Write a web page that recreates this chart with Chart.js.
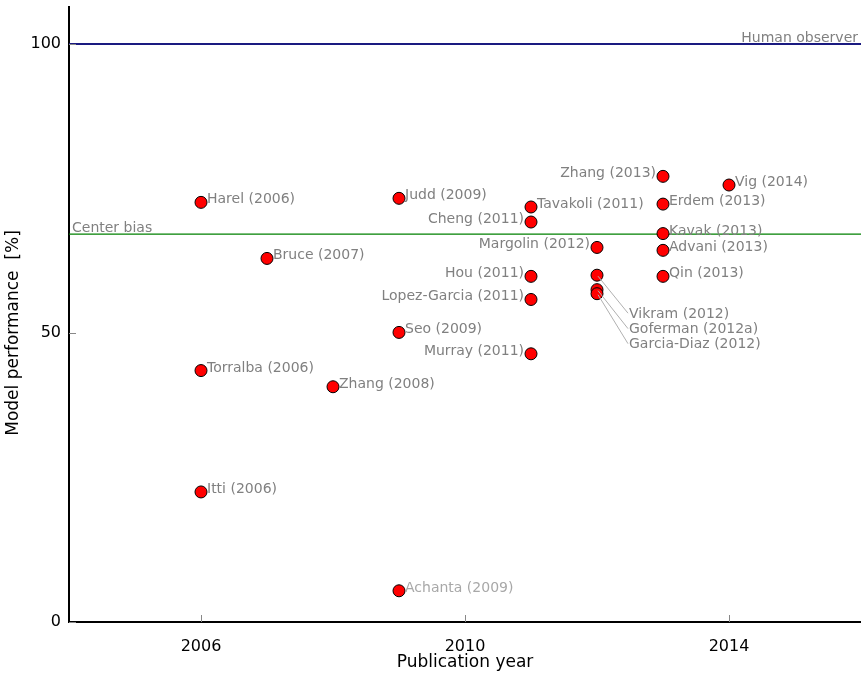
<!DOCTYPE html>
<html>
<head>
<meta charset="utf-8">
<script src="https://cdn.jsdelivr.net/npm/chart.js@4/dist/chart.umd.min.js"></script>
<style>
  html, body { margin: 0; padding: 0; background: #fff; }
  #wrap { width: 861px; height: 674px; }
</style>
</head>
<body>
<div id="wrap"><canvas id="perfChart" width="861" height="674"></canvas></div>
<script>
'use strict';

// saliency models: author, publication year, model performance [%]
const authors = [
    'Harel (2006)', 'Torralba (2006)', 'Itti (2006)', 'Bruce (2007)', 'Zhang (2008)',
    'Judd (2009)', 'Seo (2009)', 'Achanta (2009)',
    'Tavakoli (2011)', 'Cheng (2011)', 'Hou (2011)', 'Lopez-Garcia (2011)', 'Murray (2011)',
    'Margolin (2012)', 'Vikram (2012)', 'Goferman (2012a)', 'Garcia-Diaz (2012)',
    'Zhang (2013)', 'Erdem (2013)', 'Kavak (2013)', 'Advani (2013)', 'Qin (2013)',
    'Vig (2014)'
];
const years = [
    2006, 2006, 2006, 2007, 2008,
    2009, 2009, 2009,
    2011, 2011, 2011, 2011, 2011,
    2012, 2012, 2012, 2012,
    2013, 2013, 2013, 2013, 2013,
    2014
];
const scores = [
    72.6, 43.5, 22.5, 62.9, 40.7,
    73.3, 50.1, 5.4,
    71.8, 69.2, 59.8, 55.8, 46.4,
    64.8, 60.0, 57.5, 56.8,
    77.1, 72.3, 67.2, 64.3, 59.8,
    75.6
];

const humanObserver = 100;
const centerBias = 67.1;

const xTicks = [2006, 2010, 2014];
const yTicks = [0, 50, 100];

const FONT = '"DejaVu Sans", "Liberation Sans", sans-serif';

// labels drawn to the left of their marker
const leftLabels = ['Zhang (2013)', 'Cheng (2011)', 'Margolin (2012)', 'Hou (2011)',
    'Lopez-Garcia (2011)', 'Murray (2011)'];
// labels pulled away from the 2012 cluster, with a leader line
const calloutOffsets = {
    'Vikram (2012)': [32, 38],
    'Goferman (2012a)': [32, 39],
    'Garcia-Diaz (2012)': [32, 50]
};

const annotate = {
    id: 'annotate',
    afterDatasetsDraw(chart)
    {
        const c = chart.ctx;
        const xs = chart.scales.x, ys = chart.scales.y;
        const area = chart.chartArea;
        c.save();

        // inward tick marks
        c.strokeStyle = '#888';
        c.lineWidth = 1;
        xTicks.forEach(t =>
        {
            const px = Math.round(xs.getPixelForValue(t)) + 0.5;
            c.beginPath();
            c.moveTo(px, area.bottom);
            c.lineTo(px, area.bottom - 7);
            c.stroke();
        });
        yTicks.forEach(t =>
        {
            const py = Math.round(ys.getPixelForValue(t)) + 0.5;
            c.beginPath();
            c.moveTo(area.left, py);
            c.lineTo(area.left + 7, py);
            c.stroke();
        });

        // reference line captions
        c.font = '14px ' + FONT;
        c.fillStyle = '#808080';
        c.textBaseline = 'alphabetic';
        c.textAlign = 'right';
        c.fillText('Human observer', area.right - 3, ys.getPixelForValue(humanObserver) - 2);
        c.textAlign = 'left';
        c.fillText('Center bias', area.left + 3, ys.getPixelForValue(centerBias) - 2);

        // point labels
        const meta = chart.getDatasetMeta(0);
        meta.data.forEach((pt, i) =>
        {
            const name = authors[i];
            c.fillStyle = name.startsWith('Achanta') ? '#a8a8a8' : '#808080';
            if (calloutOffsets[name])
            {
                const [dx, dy] = calloutOffsets[name];
                c.strokeStyle = '#b0b0b0';
                c.lineWidth = 1;
                c.beginPath();
                c.moveTo(pt.x + 1, pt.y + 1);
                c.lineTo(pt.x + dx - 1, pt.y + dy);
                c.stroke();
                c.textAlign = 'left';
                c.textBaseline = 'middle';
                c.fillText(name, pt.x + dx, pt.y + dy + 1);
            } else if (leftLabels.includes(name))
            {
                c.textAlign = 'right';
                c.textBaseline = 'alphabetic';
                c.fillText(name, pt.x - 7, pt.y + 1);
            } else
            {
                c.textAlign = 'left';
                c.textBaseline = 'alphabetic';
                c.fillText(name, pt.x + 6, pt.y + 1);
            }
        });

        // axis titles
        c.fillStyle = '#000';
        c.font = '17px ' + FONT;
        c.textAlign = 'center';
        c.textBaseline = 'middle';
        c.fillText('Publication year', (area.left + area.right) / 2, 663);
        c.translate(14, 333);
        c.rotate(-Math.PI / 2);
        c.fillText('Model performance  [%]', 0, 0);
        c.restore();
    }
};

const ctx = document.getElementById('perfChart').getContext('2d');
const perfChart = new Chart(ctx, {
    type: 'scatter',
    data: {
        datasets: [
            {
                label: 'Models',
                data: years.map((yr, i) => ({ x: yr, y: scores[i] })),
                pointRadius: 6,
                pointBackgroundColor: '#ff0000',
                pointBorderColor: '#000',
                pointBorderWidth: 1
            },
            {
                type: 'line',
                label: 'Human observer',
                data: [{ x: 2004, y: humanObserver }, { x: 2016, y: humanObserver }],
                borderColor: '#1a1a80',
                borderWidth: 2,
                pointRadius: 0
            },
            {
                type: 'line',
                label: 'Center bias',
                data: [{ x: 2004, y: centerBias }, { x: 2016, y: centerBias }],
                borderColor: '#008000',
                borderWidth: 1.2,
                pointRadius: 0
            }
        ]
    },
    options: {
        responsive: false,
        animation: false,
        layout: { autoPadding: false, padding: { top: 7, right: 0, left: 0, bottom: 0 } },
        plugins: {
            legend: { display: false },
            tooltip: { enabled: false }
        },
        scales: {
            x: {
                type: 'linear',
                min: 2004,
                max: 2016,
                afterBuildTicks: scale => { scale.ticks = xTicks.map(v => ({ value: v })); },
                afterFit: scale =>
                {
                    scale.height = 52;
                    scale.paddingLeft = 0;
                    scale.paddingRight = 0;
                },
                grid: { display: false, drawTicks: false },
                border: { display: true, color: '#000', width: 2 },
                ticks: {
                    color: '#000',
                    font: { family: FONT, size: 16 },
                    padding: 15,
                    maxRotation: 0,
                    callback: v => String(v)
                }
            },
            y: {
                type: 'linear',
                min: 0,
                max: 106.4,
                afterBuildTicks: scale => { scale.ticks = yTicks.map(v => ({ value: v })); },
                afterFit: scale =>
                {
                    scale.width = 69;
                    scale.paddingTop = 0;
                    scale.paddingBottom = 0;
                },
                grid: { display: false, drawTicks: false },
                border: { display: true, color: '#000', width: 2 },
                ticks: {
                    color: '#000',
                    font: { family: FONT, size: 16 },
                    padding: 8,
                    callback: v => String(v)
                }
            }
        }
    },
    plugins: [annotate]
});
</script>
</body>
</html>
